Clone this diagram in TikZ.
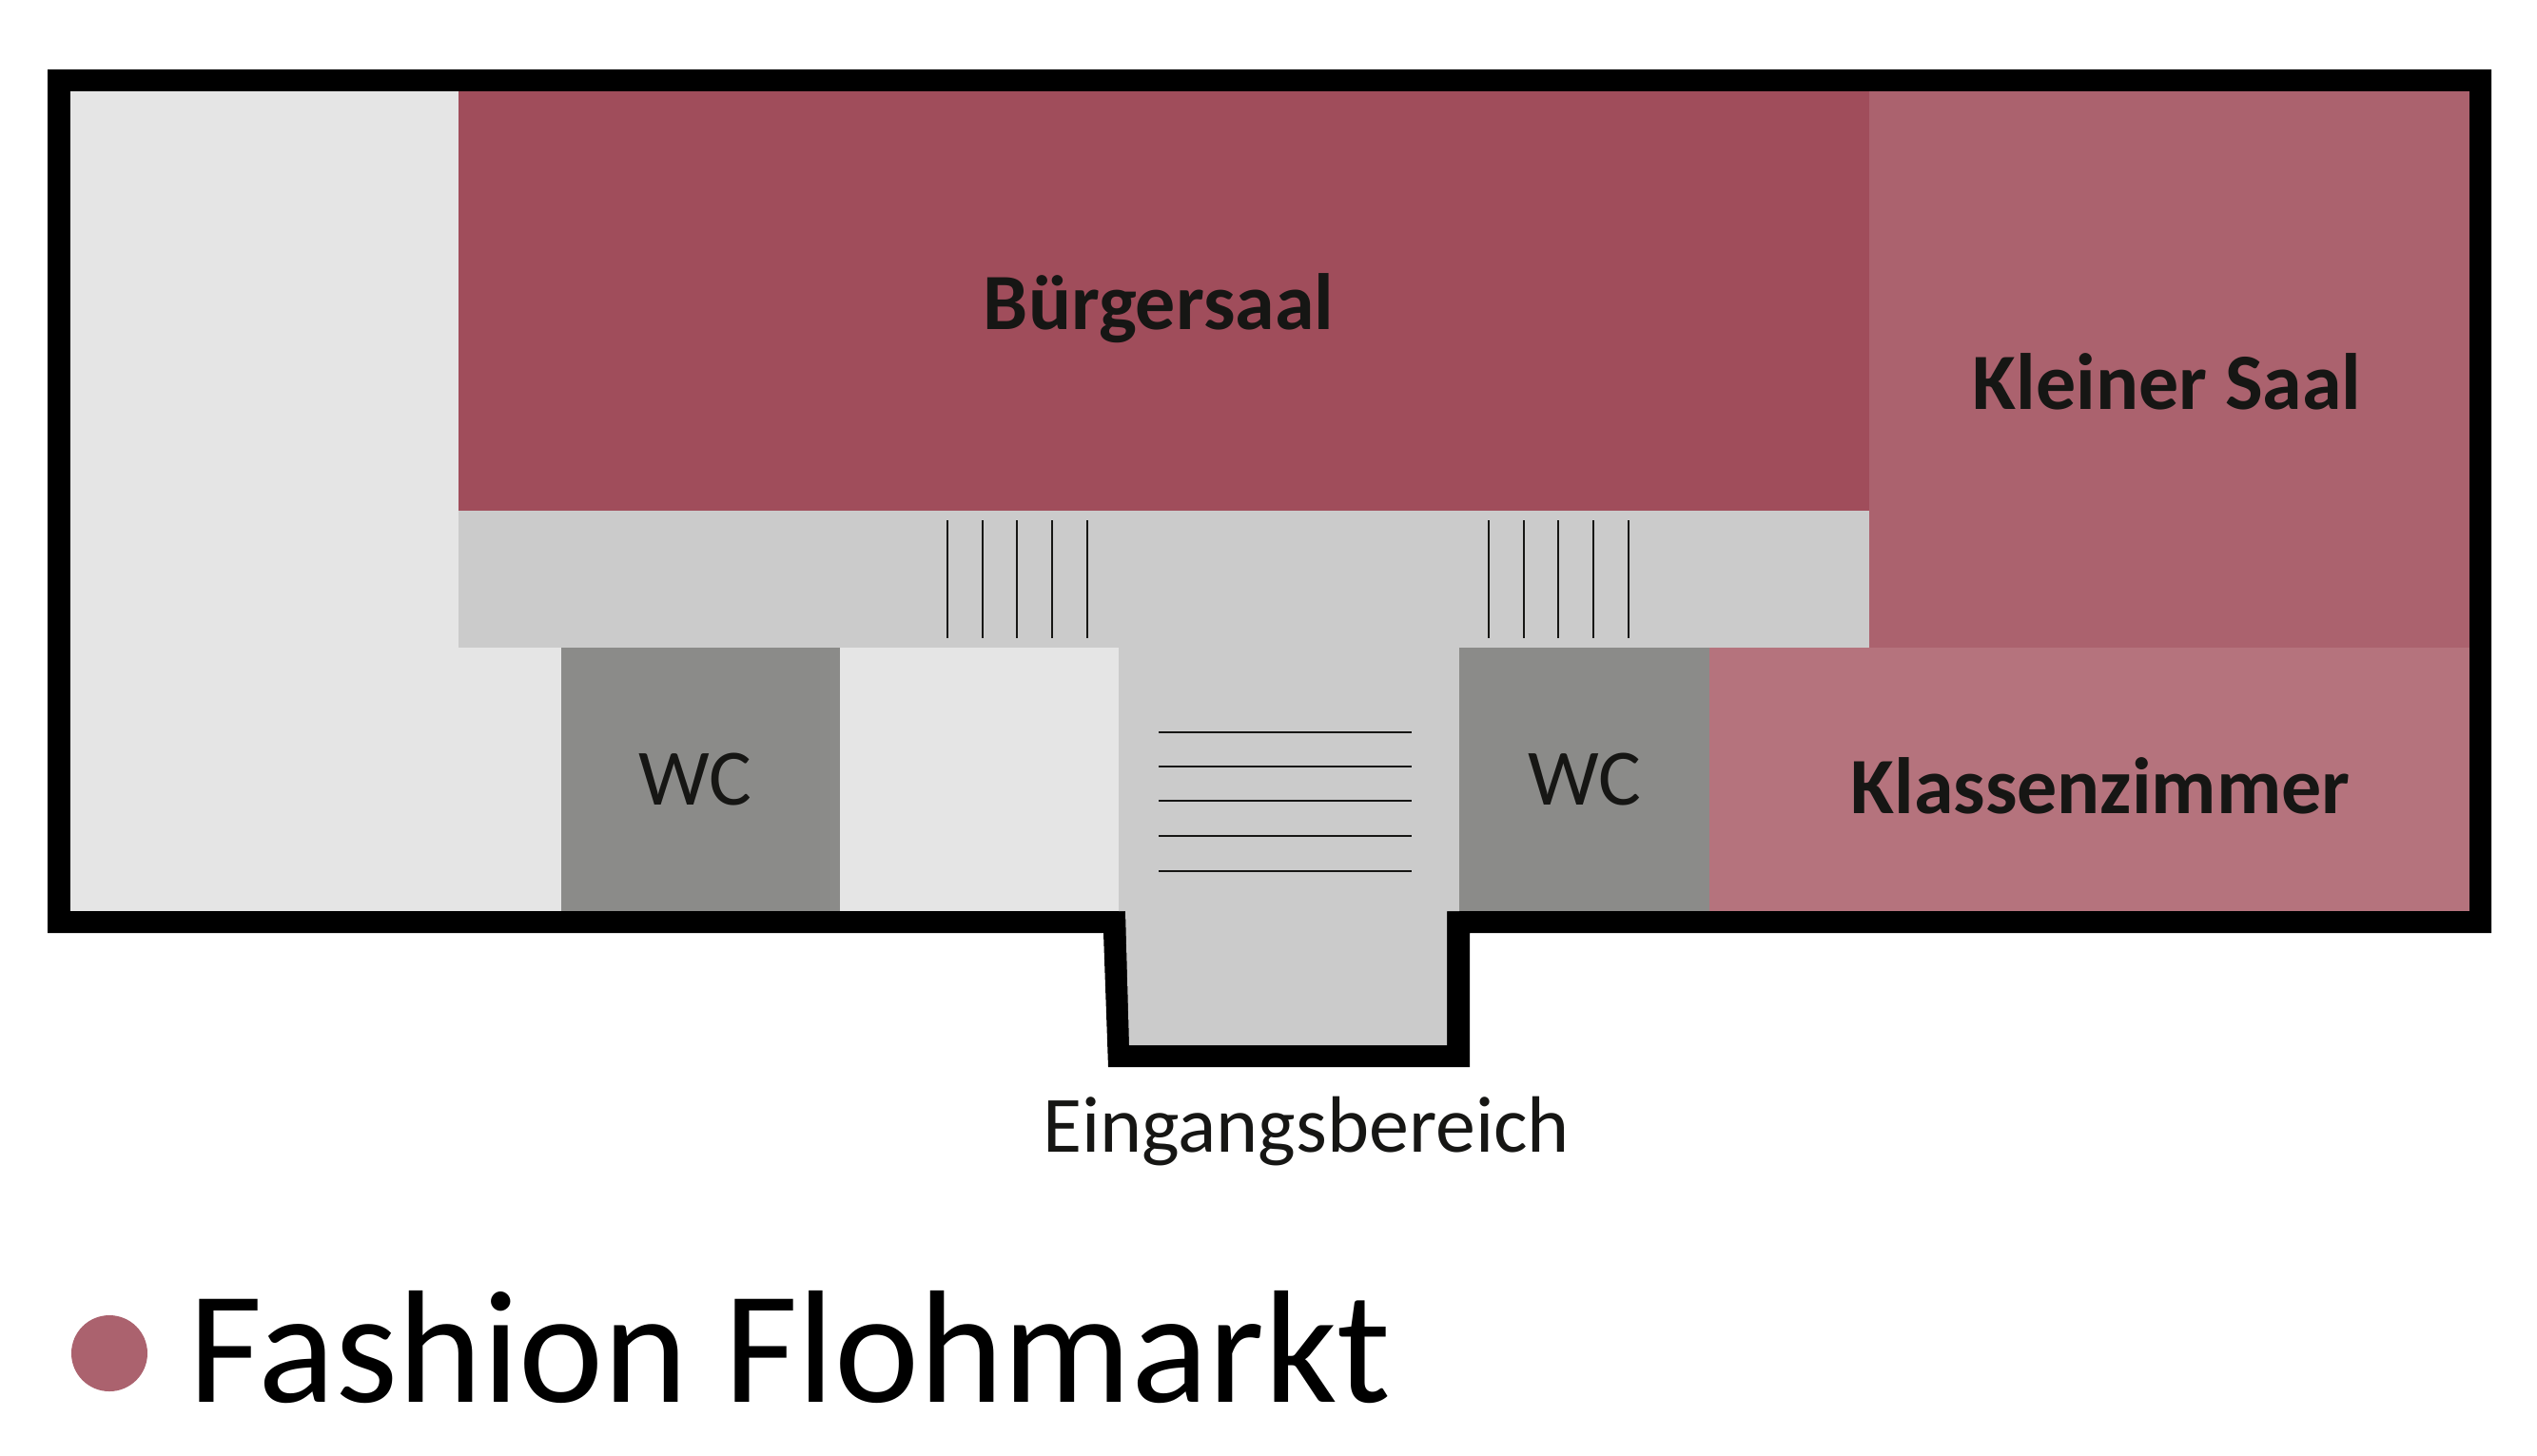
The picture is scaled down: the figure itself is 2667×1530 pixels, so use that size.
\documentclass[tikz,border=0pt]{standalone}
\usepackage{fontspec}
\setmainfont{Carlito}
\definecolor{saalred}{HTML}{A04D5B}
\definecolor{kleinred}{HTML}{AB626E}
\definecolor{klasse}{HTML}{B5737D}
\definecolor{flur}{HTML}{CBCBCB}
\definecolor{frei}{HTML}{E5E5E5}
\definecolor{wcgrey}{HTML}{8B8B89}
\definecolor{schrift}{HTML}{161614}
\tikzstyle{wall}=[fill=black]
\tikzstyle{free}=[fill=frei]
\tikzstyle{hall}=[fill=flur]
\tikzstyle{wcroom}=[fill=wcgrey]
\tikzstyle{stair}=[draw=schrift,line width=0.25mm]
\tikzstyle{bold}=[anchor=base,text=schrift,font=\fontsize{23.9}{26}\selectfont\bfseries]
\tikzstyle{plain}=[anchor=base,text=schrift,font=\fontsize{23.9}{26}\selectfont]
\tikzstyle{title}=[anchor=base west,text=black,inner sep=0pt,font=\fontsize{48}{52}\selectfont]

\begin{document}
\begin{tikzpicture}[x=0.1mm,y=-0.1mm]
\useasboundingbox (0,0) rectangle (2667,1530);

% building
\fill[wall] (50,73) -- (2619,73) -- (2619,981) -- (1545,981) -- (1545,1122) -- (1165,1122) -- (1160,981) -- (50,981) -- cycle;
\fill[free] (74,96) rectangle (2596,958);

% rooms
\fill[fill=saalred] (482,96) rectangle (1965,537);
\fill[fill=kleinred] (1965,96) rectangle (2596,681);
\fill[fill=klasse] (1797,681) rectangle (2596,958);
\fill[hall] (482,537) rectangle (1965,681);
\fill[hall] (1176,681) -- (1534,681) -- (1534,958) -- (1521,958) -- (1521,1099) -- (1187,1099) -- (1183,958) -- (1176,958) -- cycle;
\fill[wcroom] (590,681) rectangle (883,958);
\fill[wcroom] (1534,681) rectangle (1797,958);

% stairs
\coordinate (a1) at (996,547);
\coordinate (b1) at (996,671);
\coordinate (a2) at (1033,547);
\coordinate (b2) at (1033,671);
\coordinate (a3) at (1069,547);
\coordinate (b3) at (1069,671);
\coordinate (a4) at (1106,547);
\coordinate (b4) at (1106,671);
\coordinate (a5) at (1143,547);
\coordinate (b5) at (1143,671);
\draw[stair] (a1) -- (b1);
\draw[stair] (a2) -- (b2);
\draw[stair] (a3) -- (b3);
\draw[stair] (a4) -- (b4);
\draw[stair] (a5) -- (b5);

\coordinate (c1) at (1565,547);
\coordinate (d1) at (1565,671);
\coordinate (c2) at (1602,547);
\coordinate (d2) at (1602,671);
\coordinate (c3) at (1638,547);
\coordinate (d3) at (1638,671);
\coordinate (c4) at (1675,547);
\coordinate (d4) at (1675,671);
\coordinate (c5) at (1712,547);
\coordinate (d5) at (1712,671);
\draw[stair] (c1) -- (d1);
\draw[stair] (c2) -- (d2);
\draw[stair] (c3) -- (d3);
\draw[stair] (c4) -- (d4);
\draw[stair] (c5) -- (d5);

\coordinate (e1) at (1218,770);
\coordinate (f1) at (1484,770);
\coordinate (e2) at (1218,806);
\coordinate (f2) at (1484,806);
\coordinate (e3) at (1218,842);
\coordinate (f3) at (1484,842);
\coordinate (e4) at (1218,879);
\coordinate (f4) at (1484,879);
\coordinate (e5) at (1218,916);
\coordinate (f5) at (1484,916);
\draw[stair] (e1) -- (f1);
\draw[stair] (e2) -- (f2);
\draw[stair] (e3) -- (f3);
\draw[stair] (e4) -- (f4);
\draw[stair] (e5) -- (f5);

% labels
\node (saal) [bold] at (1218,346) {Bürgersaal};
\node (klein) [bold] at (2278,430) {Kleiner Saal};
\node (zimmer) [bold] at (2208,855) {Klassenzimmer};
\node (wc1) [plain] at (731,846) {WC};
\node (wc2) [plain] at (1666,846) {WC};
\node (eingang) [plain] at (1373,1211) {Eingangsbereich};

% legend
\node (dot) [circle,fill=kleinred,minimum size=8mm,inner sep=0pt] at (115,1423) {};
\node (fashion) [title] at (198,1474) {Fashion Flohmarkt};
\end{tikzpicture}
\end{document}
